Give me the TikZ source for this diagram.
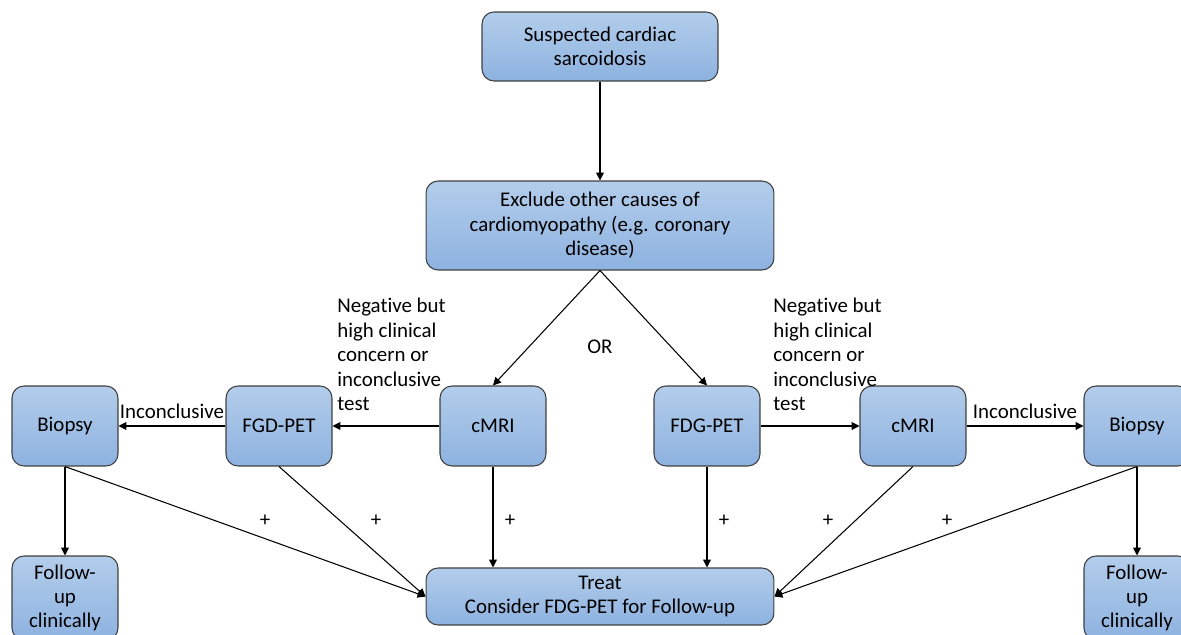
\documentclass[tikz,border=0pt]{standalone}
\usepackage{fontspec}
\setmainfont[Ligatures=NoCommon]{Carlito}
\usetikzlibrary{arrows.meta}

\definecolor{boxtop}{HTML}{B3CDEB}
\definecolor{boxbot}{HTML}{8DB2E0}
\definecolor{boxline}{HTML}{3F3F3F}

\tikzset{
  flowbox/.style={draw=boxline, line width=0.6pt, rounded corners=0.24cm,
    top color=boxtop, bottom color=boxbot, align=center, inner sep=2pt},
  smallbox/.style={flowbox, minimum width=2.12cm, minimum height=1.6cm},
  flowarrow/.style={-{Triangle[length=4.5pt,width=4.5pt]}, line width=0.6pt},
  sidenote/.style={align=left, anchor=north west, inner sep=0pt},
}

\begin{document}
\begin{tikzpicture}[x=0.02cm, y=-0.02cm, font=\fontsize{11.9}{13.9}\selectfont]
			\clip (0,0) rectangle (1181,635);

			\node [flowbox, minimum width=4.72cm, minimum height=1.38cm] (suspect) at (600,46.5) {Suspected cardiac\\sarcoidosis};
			\node [flowbox, minimum width=6.96cm, minimum height=1.78cm] (exclude) at (600,225.5) {Exclude other causes of\\cardiomyopathy (e.g. coronary\\disease)};
			\node [flowbox, minimum width=6.96cm, minimum height=1.14cm] (treat) at (600,596.5) {Treat\\Consider FDG-PET for Follow-up};

			% left branch
			\node [smallbox] (biopsyL) at (65,426) {Biopsy};
			\node [smallbox] (fgdpet) at (279,426) {FGD-PET};
			\node [smallbox] (cmriL) at (493,426) {cMRI};
			\node [smallbox, minimum height=1.68cm] (followL) at (65,598) {Follow-\\up\\clinically};

			% right branch
			\node [smallbox] (fdgpet) at (707,426) {FDG-PET};
			\node [smallbox] (cmriR) at (913,426) {cMRI};
			\node [smallbox] (biopsyR) at (1137,426) {Biopsy};
			\node [smallbox, minimum height=1.68cm] (followR) at (1137,598) {Follow-\\up\\clinically};

			\node (or) at (600,347) {OR};
			\node [sidenote] (noteL) at (337,298) {Negative but\\high clinical\\concern or\\inconclusive\\test};
			\node [sidenote] (noteR) at (773,298) {Negative but\\high clinical\\concern or\\inconclusive\\test};

			\draw [flowarrow] (suspect) -- (exclude);
			\draw [flowarrow] (exclude.south) -- (cmriL.north);
			\draw [flowarrow] (exclude.south) -- (fdgpet.north);

			\draw [flowarrow] (cmriL) -- (fgdpet);
			\draw [flowarrow] (fgdpet) -- (biopsyL) node [midway, above, inner sep=1pt, yshift=3pt] (incL) {Inconclusive};
			\draw [flowarrow] (fdgpet) -- (cmriR);
			\draw [flowarrow] (cmriR) -- (biopsyR) node [midway, above, inner sep=1pt, yshift=3pt] (incR) {Inconclusive};

			\draw [flowarrow] (biopsyL) -- (followL);
			\draw [flowarrow] (biopsyR) -- (followR);

			\draw [flowarrow] (biopsyL.south) -- (treat.west);
			\draw [flowarrow] (fgdpet.south) -- (treat.west);
			\draw [flowarrow] (cmriL.south) -- (cmriL.south |- treat.north);
			\draw [flowarrow] (fdgpet.south) -- (fdgpet.south |- treat.north);
			\draw [flowarrow] (cmriR.south) -- (treat.east);
			\draw [flowarrow] (biopsyR.south) -- (treat.east);

			\foreach \x [count=\i] in {265,376,510,724,828,947}
				\node (plus\i) at (\x,521) {+};
		\end{tikzpicture}
\end{document}
